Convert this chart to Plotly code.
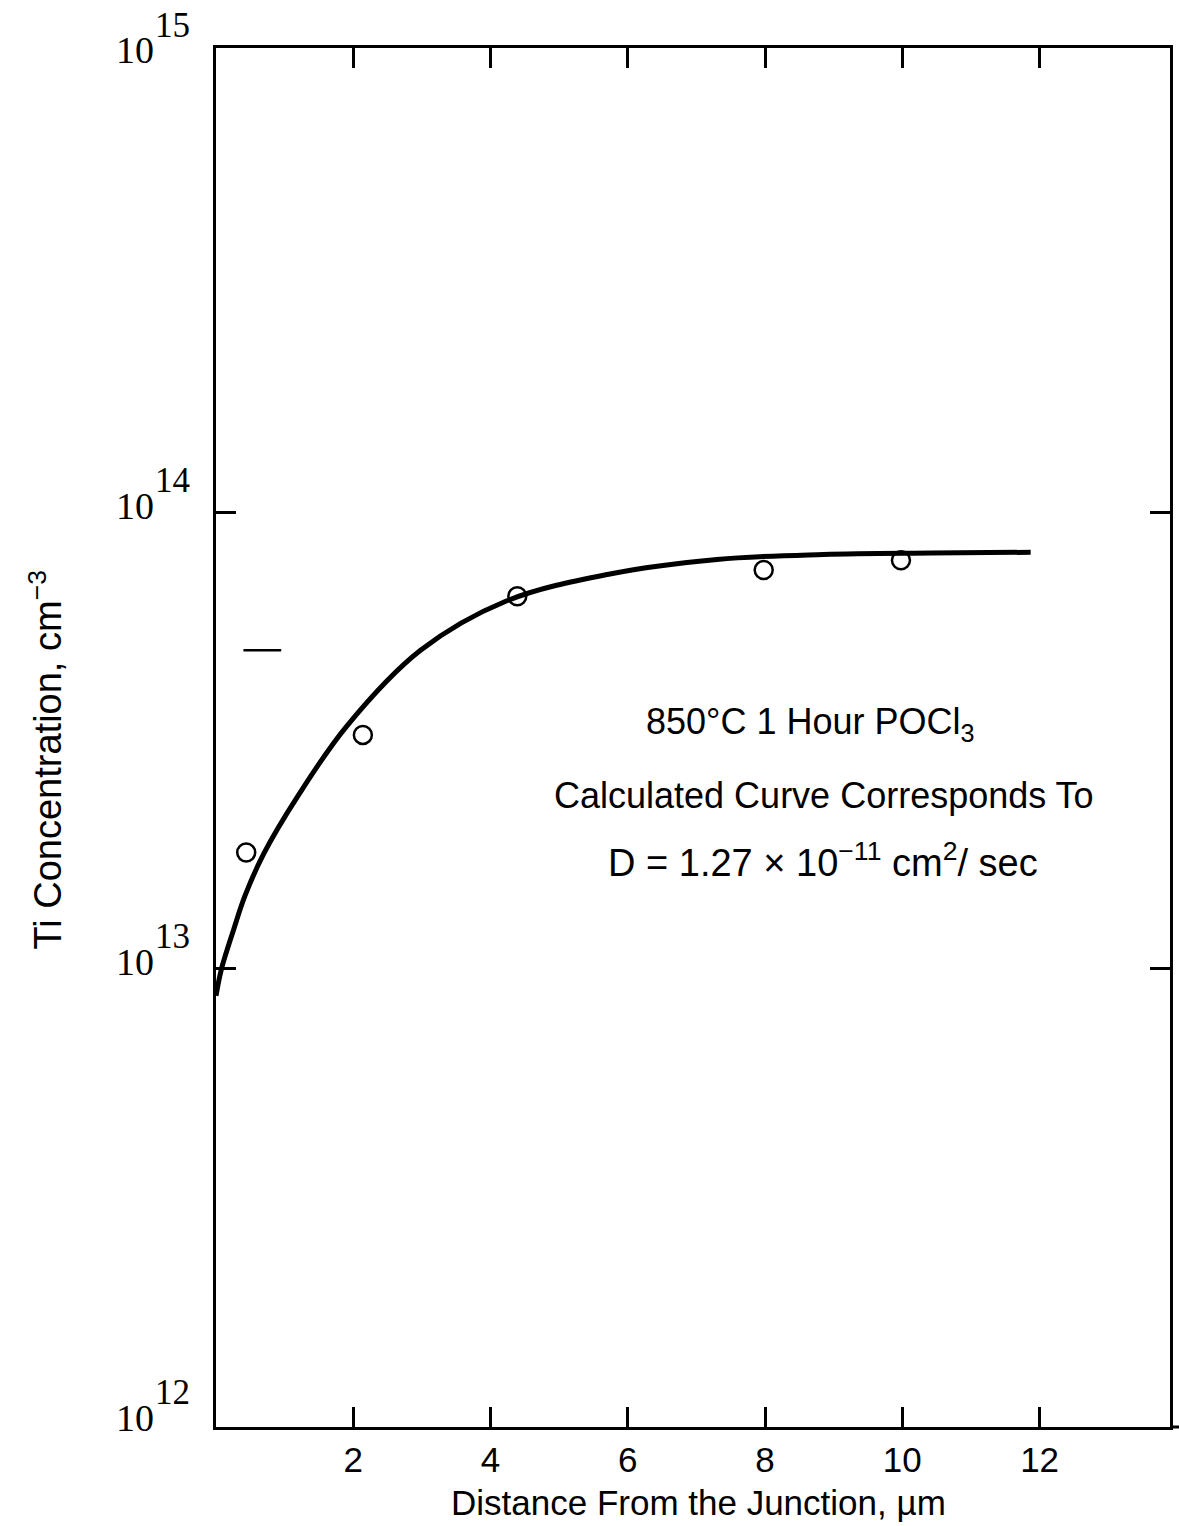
import plotly.graph_objects as go

# Measured data points (open circles)
meas_x = [0.44, 2.14, 4.39, 7.98, 9.98]
meas_y = [1.80e13, 3.26e13, 6.57e13, 7.50e13, 7.88e13]

# Calculated curve
curve_x = [0.0, 0.08, 0.26, 0.42, 0.70, 1.19, 1.90, 2.98, 4.23, 5.74, 7.30, 8.85, 10.42, 11.87]
curve_y = [8.73e12, 1.0e13, 1.223e13, 1.444e13, 1.794e13, 2.39e13, 3.40e13, 4.997e13,
           6.41e13, 7.35e13, 7.91e13, 8.11e13, 8.17e13, 8.20e13]

x_ticks = [2, 4, 6, 8, 10, 12]
y_decades = [12, 13, 14, 15]

SERIF = "Liberation Serif, Times New Roman, serif"
NARROW = "Liberation Sans Narrow, Arial Narrow, Liberation Sans, sans-serif"

L, R, T, B = 216, 1173, 48, 1427

fig = go.Figure()
fig.add_trace(go.Scatter(x=curve_x, y=curve_y, mode="lines",
                         line=dict(color="black", width=5, shape="spline", smoothing=1.0),
                         showlegend=False, hoverinfo="skip"))
fig.add_trace(go.Scatter(x=meas_x, y=meas_y, mode="markers",
                         marker=dict(symbol="circle-open", size=18, color="black",
                                     line=dict(width=2.5, color="black")),
                         showlegend=False))


def px2paper_x(px):
    return (px - L) / (R - L)


def py2paper_y(py):
    return (B - py) / (B - T)


annotations = []
# y decade labels 10^n
for d in y_decades:
    annotations.append(dict(x=0, xref="paper", y=d, yref="y", text="10",
                            showarrow=False, xanchor="right", yanchor="middle",
                            xshift=-60, yshift=7, font=dict(family=SERIF, size=38, color="black")))
    annotations.append(dict(x=0, xref="paper", y=d, yref="y", text=str(d),
                            showarrow=False, xanchor="left", yanchor="middle",
                            xshift=-63, yshift=32, font=dict(family=SERIF, size=35, color="black")))

annotations.append(dict(x=px2paper_x(812), xref="paper", y=py2paper_y(724), yref="paper",
                        text="850°C 1 Hour POCl<sub>3</sub>", showarrow=False,
                        xanchor="center", yanchor="middle",
                        font=dict(family=NARROW, size=36, color="black")))
annotations.append(dict(x=px2paper_x(826), xref="paper", y=py2paper_y(795), yref="paper",
                        text="Calculated Curve Corresponds To", showarrow=False,
                        xanchor="center", yanchor="middle",
                        font=dict(family=NARROW, size=36, color="black")))
annotations.append(dict(x=px2paper_x(825), xref="paper", y=py2paper_y(860), yref="paper",
                        text="D = 1.27 × 10<sup>−11</sup> cm<sup>2</sup>/ sec", showarrow=False,
                        xanchor="center", yanchor="middle",
                        font=dict(family=NARROW, size=38, color="black")))
# axis titles
annotations.append(dict(x=px2paper_x(700), xref="paper", y=py2paper_y(1502), yref="paper",
                        text="Distance From the Junction, µm", showarrow=False,
                        xanchor="center", yanchor="middle",
                        font=dict(family=NARROW, size=35, color="black")))
annotations.append(dict(x=px2paper_x(45), xref="paper", y=py2paper_y(760), yref="paper",
                        text="Ti Concentration, cm<sup>−3</sup>", showarrow=False, textangle=-90,
                        xanchor="center", yanchor="middle",
                        font=dict(family=NARROW, size=38, color="black")))

fig.update_layout(
    width=1179, height=1526,
    margin=dict(l=L, r=1179 - R, t=T, b=1526 - B),
    paper_bgcolor="white", plot_bgcolor="white",
    annotations=annotations,
    shapes=[
        dict(type="line", xref="x", yref="y", x0=0.4, x1=0.95, y0=5e13, y1=5e13,
             line=dict(color="black", width=2.5)),
        dict(type="line", xref="paper", yref="paper", x0=1, x1=1.01, y0=0, y1=0,
             line=dict(color="black", width=3)),
    ],
    xaxis=dict(range=[0, 13.9], tickvals=x_ticks, ticktext=[str(v) for v in x_ticks],
               ticks="inside", ticklen=20, tickwidth=2.5, tickcolor="black",
               showline=True, linewidth=3, linecolor="black", mirror="allticks",
               showgrid=False, zeroline=False,
               tickfont=dict(family=NARROW, size=35, color="black")),
    yaxis=dict(type="log", range=[11.995, 15.02], tickvals=[1e13, 1e14],
               ticks="inside", ticklen=20, tickwidth=2.5, tickcolor="black",
               showline=True, linewidth=3, linecolor="black", mirror="allticks",
               showgrid=False, zeroline=False, showticklabels=False),
)

fig.write_html("out.html")
